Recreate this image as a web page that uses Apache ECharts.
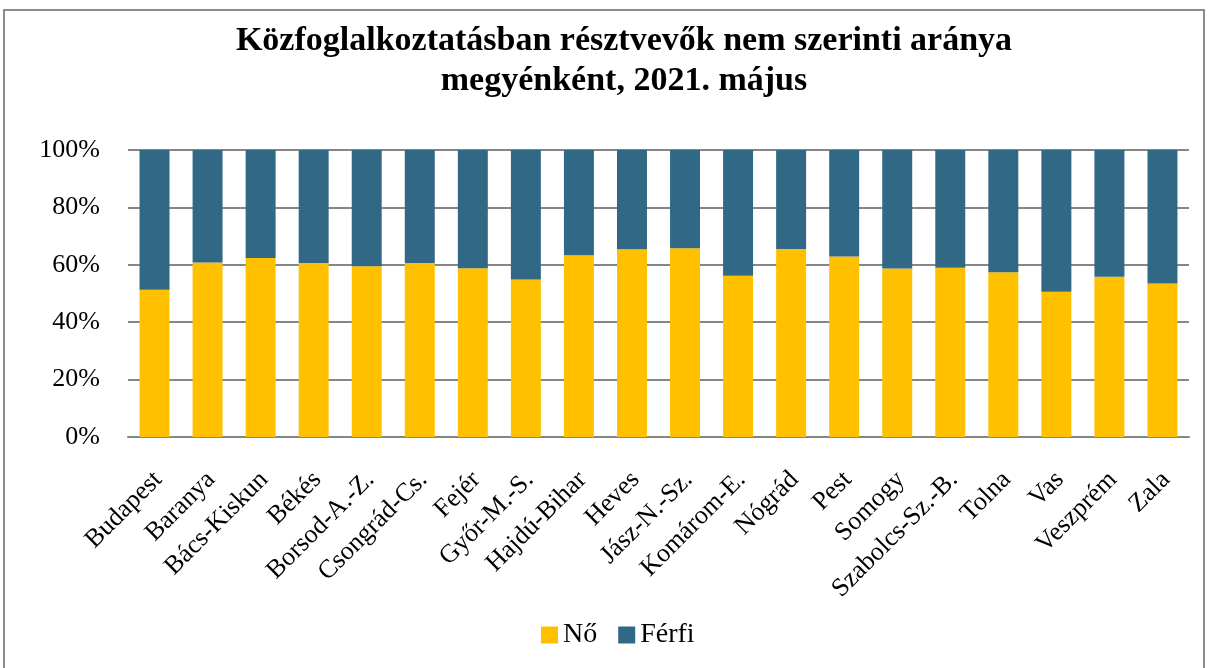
<!DOCTYPE html>
<html>
<head>
<meta charset="utf-8">
<script src="https://cdn.jsdelivr.net/npm/echarts@6/dist/echarts.min.js"></script>
<style>
html,body{margin:0;padding:0;background:#fff;}
#chart{width:1208px;height:668px;}
</style>
</head>
<body>
<div id="chart"></div>
<script>
const categories = ['Budapest','Baranya','Bács-Kiskun','Békés','Borsod-A.-Z.','Csongrád-Cs.','Fejér','Győr-M.-S.','Hajdú-Bihar','Heves','Jász-N.-Sz.','Komárom-E.','Nógrád','Pest','Somogy','Szabolcs-Sz.-B.','Tolna','Vas','Veszprém','Zala'];
const noValues = [51.3,60.8,62.4,60.6,59.5,60.6,58.8,54.9,63.3,65.4,65.8,56.2,65.5,62.9,58.7,59.0,57.4,50.6,55.8,53.5];
const ferfiValues = noValues.map(v => +(100 - v).toFixed(1));
const seriesNames = ['Nő','Férfi'];
const titleText = 'Közfoglalkoztatásban résztvevők nem szerinti aránya\nmegyénként, 2021. május';

const FONT = '"Liberation Serif", "DejaVu Serif", serif';
const chart = echarts.init(document.getElementById('chart'), null, {renderer:'canvas'});
chart.setOption({
  backgroundColor:'#fff',
  animation:false,
  graphic:[{type:'rect', shape:{x:4,y:10,width:1200,height:670}, style:{fill:'none', stroke:'#8c8c8c', lineWidth:2}, silent:true}],
  title:{
    text:titleText, left:619, textAlign:'center', top:16,
    textStyle:{fontFamily:FONT, fontWeight:'bold', fontSize:34, color:'#000', lineHeight:40}
  },
  legend:{
    data:seriesNames, bottom:14, left:536, itemWidth:17, itemHeight:17, itemGap:21,
    icon:'rect',
    textStyle:{fontFamily:FONT, fontSize:28, color:'#000'}
  },
  grid:{left:128, right:19, top:150, bottom:231, containLabel:false},
  xAxis:{
    type:'category', data:categories,
    axisLine:{lineStyle:{color:'#868686', width:2}},
    axisTick:{show:false},
    axisLabel:{rotate:45, interval:0, margin:24, padding:[0,8,0,0], align:'right', verticalAlign:'top', fontFamily:FONT, fontSize:26, color:'#000'}
  },
  yAxis:{
    type:'value', min:0, max:100, interval:20,
    axisLine:{show:false}, axisTick:{show:false},
    splitLine:{lineStyle:{color:'#868686', width:2}},
    axisLabel:{formatter:'{value}%', fontFamily:FONT, fontSize:26, color:'#000', margin:28}
  },
  series:[
    {name:seriesNames[0], type:'bar', stack:'t', data:noValues, barWidth:'56.5%', itemStyle:{color:'#FFC000'}},
    {name:seriesNames[1], type:'bar', stack:'t', data:ferfiValues, barWidth:'56.5%', itemStyle:{color:'#316886'}}
  ]
});
</script>
</body>
</html>
